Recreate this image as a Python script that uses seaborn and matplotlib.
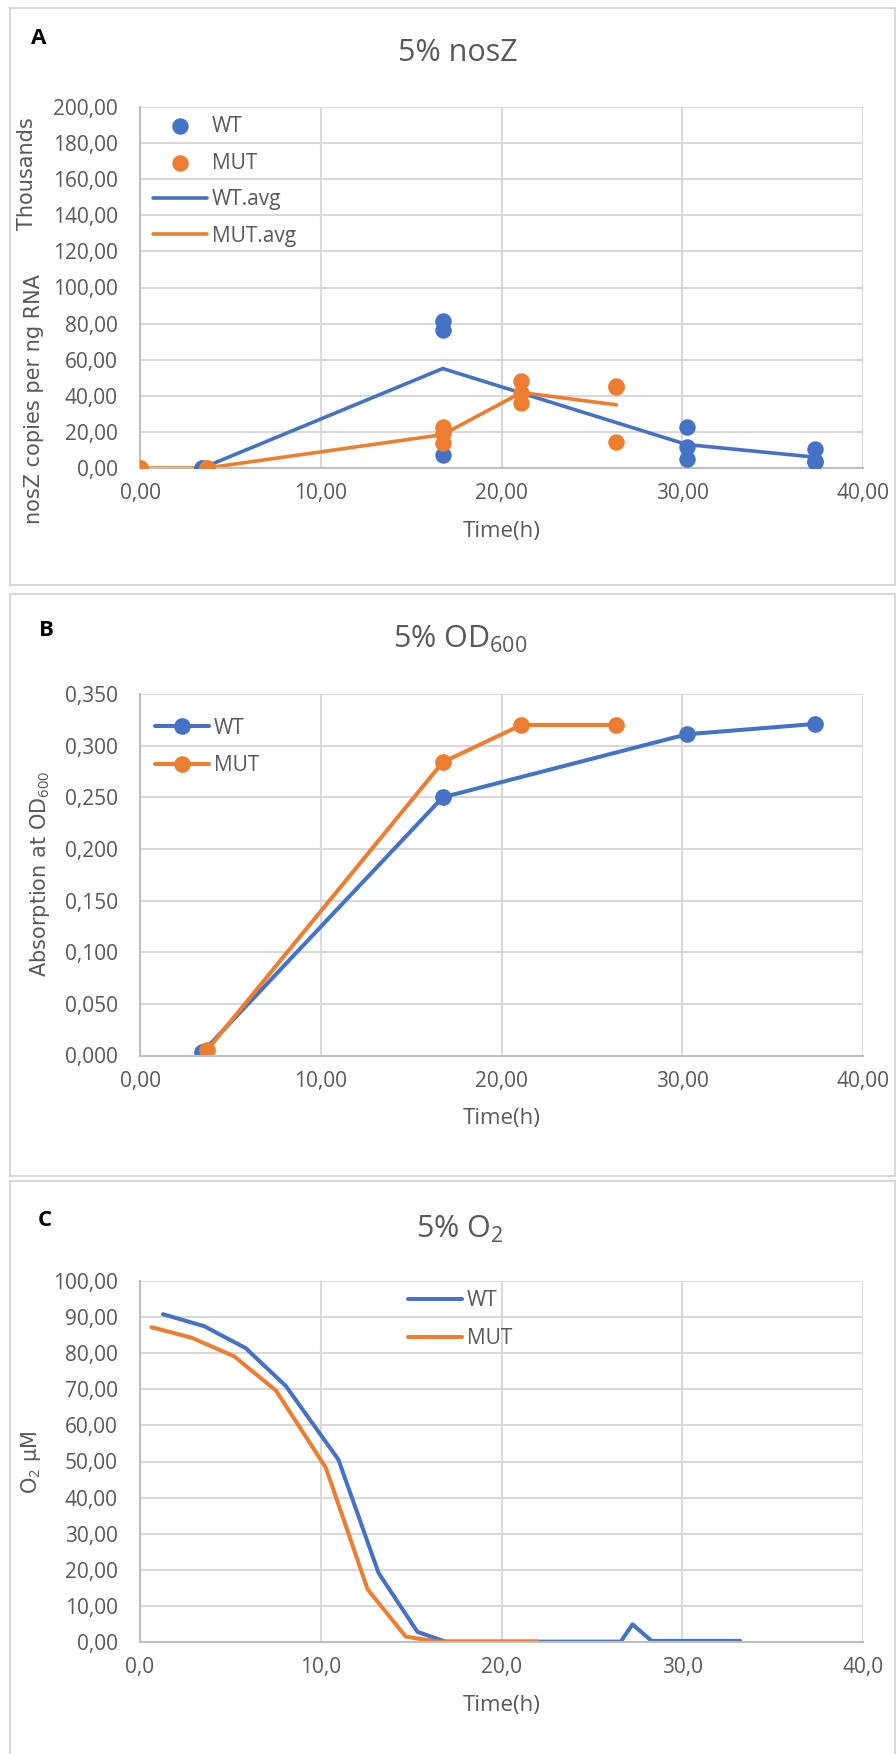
import matplotlib.pyplot as plt
import seaborn as sns
from matplotlib.patches import Rectangle
from matplotlib.ticker import FuncFormatter, MultipleLocator

BLUE = "#4472C4"
ORANGE = "#ED7D31"
GREY = "#595959"

# A: nosZ copies per ng RNA (thousands), single replicates
nosz_wt_time = [3.45, 3.45, 16.75, 16.75, 16.75, 30.25, 30.25, 30.25, 37.35, 37.35, 37.35]
nosz_wt_vals = [0.0, 0.0, 81.5, 76.7, 7.2, 22.5, 11.8, 4.8, 10.5, 4.0, 3.5]
nosz_mut_time = [0.0, 0.0, 3.7, 3.7, 16.75, 16.75, 16.75, 21.1, 21.1, 21.1, 26.35, 26.35, 26.35]
nosz_mut_vals = [0.0, 0.0, 0.0, 0.0, 22.5, 19.5, 13.6, 48.3, 41.3, 35.8, 45.5, 45.0, 14.6]
# averages
nosz_wt_avg_time = [3.45, 16.75, 30.25, 37.35]
nosz_wt_avg = [0.0, 55.1, 13.0, 6.0]
nosz_mut_avg_time = [0.0, 3.7, 16.75, 21.1, 26.35]
nosz_mut_avg = [0.0, 0.0, 18.5, 41.8, 35.0]

# B: OD600
od_wt_time = [3.45, 16.75, 30.25, 37.35]
od_wt = [0.003, 0.250, 0.311, 0.321]
od_mut_time = [3.7, 16.75, 21.1, 26.35]
od_mut = [0.005, 0.284, 0.320, 0.320]

# C: O2 (uM)
o2_wt_time = [1.27, 3.54, 5.85, 8.07, 10.98, 13.2, 15.35, 16.9, 20.0, 23.0, 26.6, 27.25, 28.3, 30.5, 33.2]
o2_wt = [90.8, 87.5, 81.4, 70.9, 50.5, 19.1, 2.8, 0.1, 0.1, 0.1, 0.1, 4.9, 0.3, 0.3, 0.3]
o2_mut_time = [0.63, 2.85, 5.22, 7.53, 10.28, 12.59, 14.7, 16.45, 18.5, 20.5, 22.0]
o2_mut = [87.2, 84.3, 79.1, 69.6, 48.3, 14.6, 1.5, 0.1, 0.1, 0.1, 0.1]

W, H = 896, 1754
sns.set_theme(style="white")
plt.rcParams["font.family"] = ["Open Sans", "DejaVu Sans"]
plt.rcParams["mathtext.fontset"] = "custom"
plt.rcParams["mathtext.rm"] = "Open Sans"
plt.rcParams["mathtext.it"] = "Open Sans"

fig = plt.figure(figsize=(W / 100, H / 100), dpi=100)
LW = 2.6
FS = 15


def px_axes(top, bottom, left=140, right=863):
    return fig.add_axes([left / W, 1 - bottom / H, (right - left) / W, (bottom - top) / H])


def comma_fmt(decimals):
    return FuncFormatter(lambda v, p: f"{v:.{decimals}f}".replace(".", ","))


def fy(y):
    return 1 - y / H


def style_axes(ax, ymax, ystep, xdec, ydec):
    ax.set_xlim(0, 40)
    ax.set_ylim(0, ymax)
    ax.xaxis.set_major_locator(MultipleLocator(10))
    ax.yaxis.set_major_locator(MultipleLocator(ystep))
    ax.xaxis.set_major_formatter(comma_fmt(xdec))
    ax.yaxis.set_major_formatter(comma_fmt(ydec))
    ax.grid(True, color="#d9d9d9", lw=1.5)
    ax.set_axisbelow(True)
    for s in ["top", "right"]:
        ax.spines[s].set_visible(False)
    for s in ["left", "bottom"]:
        ax.spines[s].set_color("#bfbfbf")
        ax.spines[s].set_linewidth(1.5)
    ax.tick_params(axis="both", labelsize=FS, colors=GREY, length=0)
    ax.tick_params(axis="x", pad=11)
    ax.tick_params(axis="y", pad=16)
    ax.set_xlabel("Time(h)", fontsize=FS + 1, color=GREY, labelpad=12)
    ax.set_ylabel("")


def panel_frame(top, bottom):
    fig.add_artist(Rectangle((10 / W, 1 - bottom / H), (W - 11) / W, (bottom - top) / H,
                             transform=fig.transFigure, fill=False, ec="#d9d9d9", lw=1.5))


def grey_legend(leg):
    for t in leg.get_texts():
        t.set_color(GREY)


# ---------- A ----------
panel_frame(8, 585)
axA = px_axes(107, 468)
sns.lineplot(x=nosz_wt_avg_time, y=nosz_wt_avg, color=BLUE, lw=LW, label="WT.avg", ax=axA,
             estimator=None, sort=False, zorder=2)
sns.lineplot(x=nosz_mut_avg_time, y=nosz_mut_avg, color=ORANGE, lw=LW, label="MUT.avg", ax=axA,
             estimator=None, sort=False, zorder=2)
sns.scatterplot(x=nosz_wt_time, y=nosz_wt_vals, color=BLUE, s=140, linewidth=0, label="WT",
                ax=axA, zorder=3)
sns.scatterplot(x=nosz_mut_time, y=nosz_mut_vals, color=ORANGE, s=140, linewidth=0, label="MUT",
                ax=axA, zorder=3)
style_axes(axA, 200, 20, 2, 2)
h, l = axA.get_legend_handles_labels()
order = [l.index(n) for n in ["WT", "MUT", "WT.avg", "MUT.avg"]]
legA = axA.legend([h[i] for i in order], [l[i] for i in order], loc="upper left",
                  bbox_to_anchor=(0.0, 1.01), frameon=False, fontsize=FS, labelspacing=0.75,
                  handlelength=2.6, handletextpad=0.25, borderaxespad=0.2)
grey_legend(legA)
fig.text(458 / W, fy(53), "5% nosZ", ha="center", va="center", fontsize=22, color=GREY)
fig.text(39 / W, fy(38), "A", ha="center", va="center", fontsize=16, fontweight="bold", color="black")
fig.text(27 / W, fy(174), "Thousands", rotation=90, ha="center", va="center", fontsize=15,
         color=GREY, family="DejaVu Sans")
fig.text(34 / W, fy(399), "nosZ copies per ng RNA", rotation=90, ha="center", va="center",
         fontsize=15, color=GREY, family="DejaVu Sans")

# ---------- B ----------
panel_frame(594, 1176)
axB = px_axes(694, 1055.5)
sns.lineplot(x=od_wt_time, y=od_wt, color=BLUE, lw=LW + 0.3, marker="o", markersize=12,
             markeredgewidth=0, label="WT", ax=axB, estimator=None, sort=False)
sns.lineplot(x=od_mut_time, y=od_mut, color=ORANGE, lw=LW + 0.3, marker="o", markersize=12,
             markeredgewidth=0, label="MUT", ax=axB, estimator=None, sort=False)
style_axes(axB, 0.35, 0.05, 2, 3)
legB = axB.legend(loc="upper left", bbox_to_anchor=(0.0, 0.975), frameon=False, fontsize=FS,
                  labelspacing=0.8, handlelength=2.6, handletextpad=0.25, borderaxespad=0.3)
grey_legend(legB)
fig.text(460 / W, fy(639), "5% OD$_{600}$", ha="center", va="center", fontsize=22, color=GREY)
fig.text(46 / W, fy(631), "B", ha="center", va="center", fontsize=16, fontweight="bold", color="black")
fig.text(40 / W, fy(874), "Absorption at OD$_{600}$", rotation=90, ha="center", va="center",
         fontsize=15, color=GREY, family="DejaVu Sans")

# ---------- C ----------
panel_frame(1181, 1760)
axC = px_axes(1281, 1642)
sns.lineplot(x=o2_wt_time, y=o2_wt, color=BLUE, lw=LW + 0.3, label="WT", ax=axC,
             estimator=None, sort=False)
sns.lineplot(x=o2_mut_time, y=o2_mut, color=ORANGE, lw=LW + 0.3, label="MUT", ax=axC,
             estimator=None, sort=False)
style_axes(axC, 100, 10, 1, 2)
legC = axC.legend(loc="upper left", bbox_to_anchor=(0.35, 1.015), frameon=False, fontsize=FS,
                  labelspacing=0.8, handlelength=2.6, handletextpad=0.25, borderaxespad=0.3)
grey_legend(legC)
fig.text(460 / W, fy(1229), "5% O$_2$", ha="center", va="center", fontsize=22, color=GREY)
fig.text(45 / W, fy(1220), "C", ha="center", va="center", fontsize=16, fontweight="bold", color="black")
fig.text(31 / W, fy(1462), "O$_2$ µM", rotation=90, ha="center", va="center", fontsize=15,
         color=GREY, family="DejaVu Sans")

fig.savefig("out.png", dpi=100)
